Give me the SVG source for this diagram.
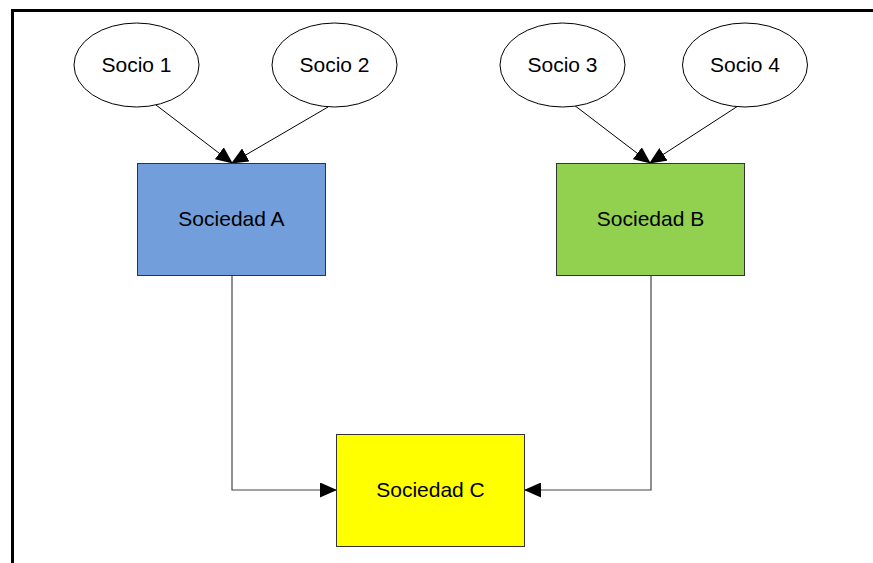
<svg xmlns="http://www.w3.org/2000/svg" width="873" height="563" viewBox="0 0 873 563">
<style>
.el{fill:#fff;stroke:#000;stroke-width:1}
.bx{stroke:#333;stroke-width:1}
.t{font-family:"Liberation Sans",Arial,sans-serif;font-size:21px;fill:#000;text-anchor:middle}
.c{fill:none;stroke:#000;stroke-width:1}
.c2{fill:none;stroke:#444;stroke-width:1.2}
</style>
<defs>
<marker id="ah" markerWidth="17" markerHeight="15" refX="16" refY="7.5" orient="auto" markerUnits="userSpaceOnUse">
<path d="M0,0 L17,7.5 L0,15 Z" fill="#000"/>
</marker>
</defs>
<rect x="0" y="0" width="873" height="563" fill="#fff"/>
<path d="M12.5,565 L12.5,10.5 L875,10.5" fill="none" stroke="#000" stroke-width="3"/>
<g id="connectors">
<line class="c" x1="156" y1="105" x2="232" y2="163" marker-end="url(#ah)"/>
<line class="c" x1="328" y1="107" x2="232" y2="163" marker-end="url(#ah)"/>
<line class="c" x1="574" y1="105" x2="650" y2="163" marker-end="url(#ah)"/>
<line class="c" x1="738" y1="106" x2="650" y2="163" marker-end="url(#ah)"/>
<path class="c2" d="M232,276 L232,490 L336,490" marker-end="url(#ah)"/>
<path class="c2" d="M651,276 L651,490 L525,490" marker-end="url(#ah)"/>
</g>
<g id="socio1"><ellipse class="el" cx="136.5" cy="65" rx="62.5" ry="42"/><text class="t" x="136.5" y="72">Socio 1</text></g>
<g id="socio2"><ellipse class="el" cx="334.5" cy="65" rx="62.5" ry="42"/><text class="t" x="334.5" y="72">Socio 2</text></g>
<g id="socio3"><ellipse class="el" cx="562.5" cy="65" rx="62.5" ry="42"/><text class="t" x="562.5" y="72">Socio 3</text></g>
<g id="socio4"><ellipse class="el" cx="745" cy="65" rx="62.5" ry="42"/><text class="t" x="745" y="72">Socio 4</text></g>
<g id="sociedadA"><rect class="bx" x="137.5" y="163.5" width="188" height="112" fill="#729fdb"/><text class="t" x="231.5" y="226">Sociedad A</text></g>
<g id="sociedadB"><rect class="bx" x="556.5" y="163.5" width="188" height="112" fill="#92d050"/><text class="t" x="650.5" y="226">Sociedad B</text></g>
<g id="sociedadC"><rect class="bx" x="336.5" y="434.5" width="188" height="112" fill="#ffff00"/><text class="t" x="430.5" y="497">Sociedad C</text></g>
</svg>
